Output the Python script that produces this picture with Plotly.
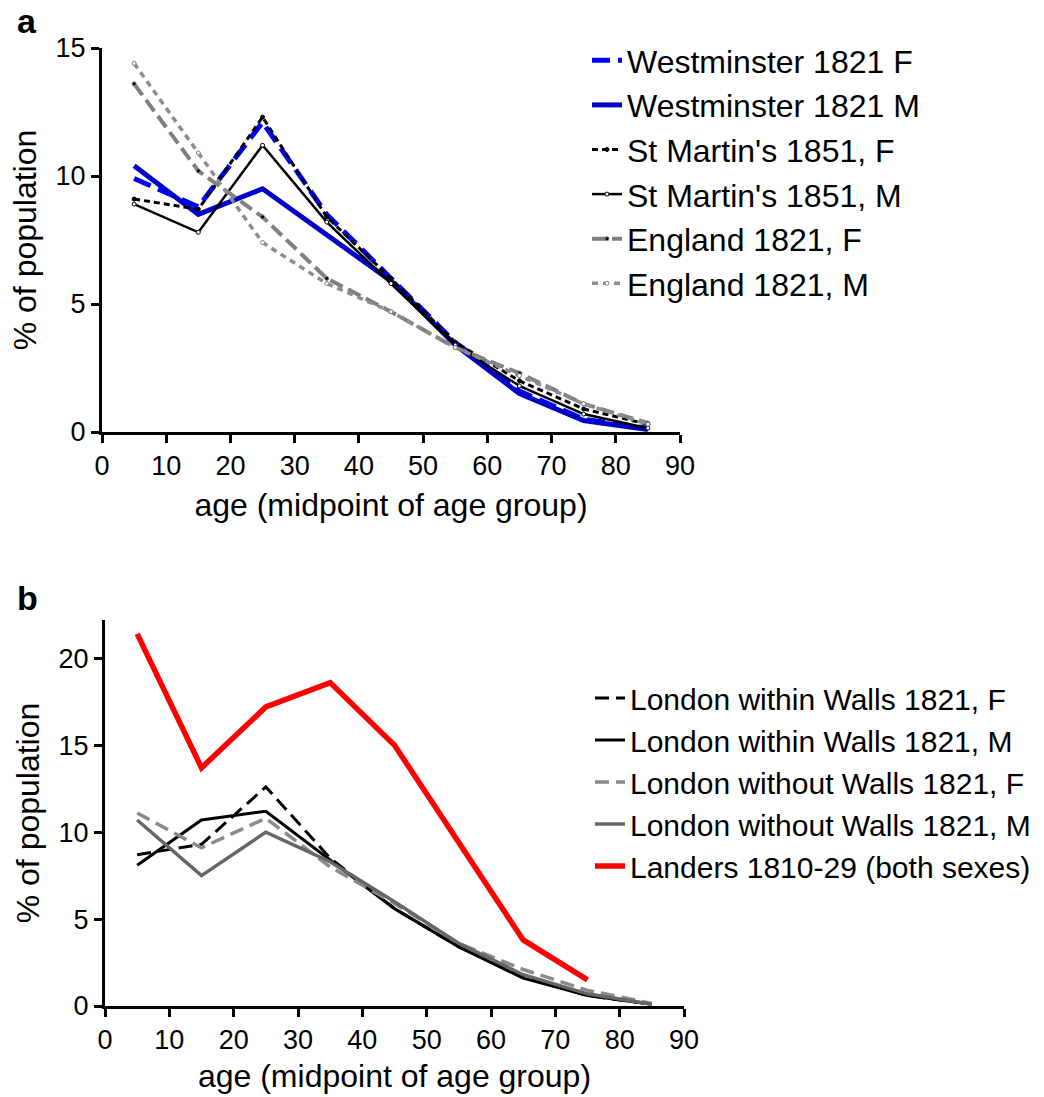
import plotly.graph_objects as go

# Age-group midpoints shared by every series
ages = [5, 15, 25, 35, 45, 55, 65, 75, 85]

# Panel a: % of population by age group
westminster_f = [9.9, 8.8, 12.1, 8.5, 6.0, 3.5, 1.6, 0.5, 0.15]
westminster_m = [10.4, 8.5, 9.5, 7.7, 5.9, 3.4, 1.5, 0.45, 0.1]
stmartins_f = [9.1, 8.7, 12.3, 8.4, 6.0, 3.5, 2.0, 0.9, 0.3]
stmartins_m = [8.9, 7.8, 11.2, 8.2, 5.8, 3.4, 1.8, 0.7, 0.15]
england_f = [13.6, 10.2, 8.4, 6.0, 4.7, 3.3, 2.3, 1.1, 0.35]
england_m = [14.4, 10.9, 7.4, 5.8, 4.7, 3.3, 2.2, 1.1, 0.3]

# Panel b: % of population by age group
within_f = [8.7, 9.3, 12.6, 8.5, 5.6, 3.4, 1.7, 0.6, 0.1]
within_m = [8.1, 10.7, 11.2, 8.4, 5.6, 3.4, 1.6, 0.6, 0.1]
without_f = [11.1, 9.1, 10.8, 8.0, 5.9, 3.6, 2.1, 0.9, 0.15]
without_m = [10.7, 7.5, 10.0, 8.3, 6.0, 3.6, 1.8, 0.7, 0.1]
landers_ages = [5, 15, 25, 35, 45, 55, 65, 75]
landers = [21.4, 13.7, 17.2, 18.6, 15.0, 9.4, 3.8, 1.5]

x_ticks = list(range(0, 91, 10))
y_ticks_a = [0, 5, 10, 15]
y_ticks_b = [0, 5, 10, 15, 20]

FONT = "Liberation Sans, Arial, sans-serif"
W, H = 1044, 1097

fig = go.Figure()


def add(x, y, name, color, width, dash, xa, ya, legend,
        mcolor=None, mline=None):
    mode = "lines+markers" if mcolor else "lines"
    fig.add_trace(go.Scatter(
        x=x, y=y, name=name, mode=mode, xaxis=xa, yaxis=ya, legend=legend,
        line=dict(color=color, width=width, dash=dash),
        marker=dict(size=4, color=mcolor or color,
                    line=dict(width=1, color=mline or color)),
    ))


# Panel a
add(ages, westminster_f, "Westminster 1821 F", "#0000ff", 5, "18px,8px", "x", "y", "legend")
add(ages, westminster_m, "Westminster 1821 M", "#0000c8", 5, "solid", "x", "y", "legend")
add(ages, stmartins_f, "St Martin's 1851, F", "#000000", 3, "6px,4px", "x", "y", "legend",
    mcolor="#000000")
add(ages, stmartins_m, "St Martin's 1851, M", "#000000", 2.5, "solid", "x", "y", "legend",
    mcolor="#ffffff", mline="#000000")
add(ages, england_f, "England 1821, F", "#808080", 4, "14px,6px", "x", "y", "legend",
    mcolor="#000000")
add(ages, england_m, "England 1821, M", "#8c8c8c", 3.5, "6px,5px", "x", "y", "legend",
    mcolor="#ffffff", mline="#808080")

# Panel b
add(ages, within_f, "London within Walls 1821, F", "#000000", 3, "14px,7px", "x2", "y2", "legend2")
add(ages, within_m, "London within Walls 1821, M", "#000000", 3, "solid", "x2", "y2", "legend2")
add(ages, without_f, "London without Walls 1821, F", "#8a8a8a", 3.5, "14px,7px", "x2", "y2", "legend2")
add(ages, without_m, "London without Walls 1821, M", "#666666", 3.5, "solid", "x2", "y2", "legend2")
add(landers_ages, landers, "Landers 1810-29 (both sexes)", "#ff0000", 5.5, "solid", "x2", "y2", "legend2")

axis_common = dict(
    showline=True, linecolor="black", linewidth=3, mirror=False,
    ticks="outside", ticklen=8, tickwidth=3, tickcolor="black",
    showgrid=False, zeroline=False, automargin=False,
    tickfont=dict(family=FONT, size=27, color="black"),
    title_font=dict(family=FONT, size=32, color="black"),
)

fig.update_layout(
    width=W, height=H,
    margin=dict(l=0, r=0, t=0, b=0, pad=0),
    paper_bgcolor="white", plot_bgcolor="white",
    font=dict(family=FONT, color="black"),
    xaxis=dict(domain=[102 / W, 680 / W], range=[0, 90], tickvals=x_ticks,
               anchor="y", title=dict(text="age (midpoint of age group)", standoff=14),
               **axis_common),
    yaxis=dict(domain=[1 - 432 / H, 1 - 48 / H], range=[0, 15], tickvals=y_ticks_a,
               anchor="x", title=dict(text="% of population", standoff=10),
               **axis_common),
    xaxis2=dict(domain=[105 / W, 684 / W], range=[0, 90], tickvals=x_ticks,
                anchor="y2", title=dict(text="age (midpoint of age group)", standoff=11),
                **axis_common),
    yaxis2=dict(domain=[1 - 1006 / H, 1 - 620 / H], range=[0, 22.2], tickvals=y_ticks_b,
                anchor="x2", title=dict(text="% of population", standoff=10),
                **axis_common),
    legend=dict(x=587 / W, y=1 - 33 / H, xanchor="left", yanchor="top",
                font=dict(family=FONT, size=32, color="black"),
                bgcolor="rgba(0,0,0,0)", tracegroupgap=0),
    legend2=dict(x=590 / W, y=1 - 672 / H, xanchor="left", yanchor="top",
                 font=dict(family=FONT, size=30, color="black"),
                 bgcolor="rgba(0,0,0,0)", tracegroupgap=0),
    annotations=[
        dict(text="<b>a</b>", x=15 / W, y=1, xref="paper", yref="paper",
             xanchor="left", yanchor="top", showarrow=False,
             font=dict(family=FONT, size=34, color="black")),
        dict(text="<b>b</b>", x=15 / W, y=1 - 577 / H, xref="paper", yref="paper",
             xanchor="left", yanchor="top", showarrow=False,
             font=dict(family=FONT, size=34, color="black")),
    ],
)

fig.write_html("out.html")
